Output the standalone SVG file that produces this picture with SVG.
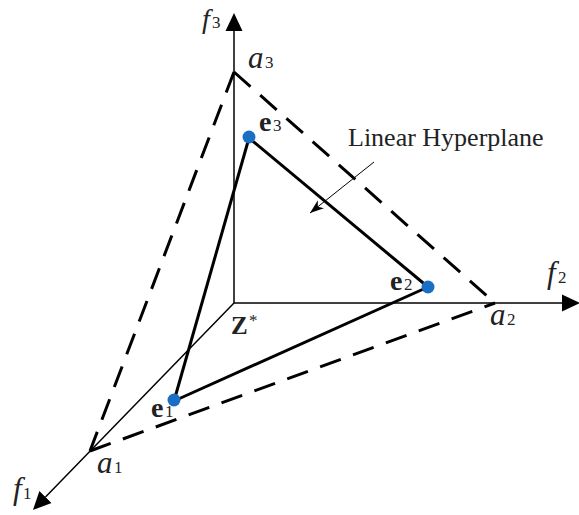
<svg xmlns="http://www.w3.org/2000/svg" width="579" height="515" viewBox="0 0 579 515">
<style>
.axis{stroke:#000;stroke-width:1.5;fill:none}
.dash{stroke:#000;stroke-width:3;fill:none;stroke-dasharray:22 13}
.edge{stroke:#000;stroke-width:3;fill:none}
.thin{stroke:#000;stroke-width:1;fill:none}
.dot{fill:#1a6fc4}
.it{font-family:"Liberation Serif","Times New Roman",serif;font-style:italic;font-size:31px;fill:#222}
.bd{font-family:"Liberation Serif","Times New Roman",serif;font-weight:bold;font-size:28px;fill:#222}
.sub{font-family:"Liberation Serif","Times New Roman",serif;font-style:normal;font-weight:normal;font-size:17px;fill:#222}
.lbl{font-family:"Liberation Serif","Times New Roman",serif;font-size:26px;fill:#222}
</style>
<defs>
<marker id="arr" markerUnits="userSpaceOnUse" markerWidth="20" markerHeight="20" viewBox="0 -10 20 20" refX="0" refY="0" orient="auto">
<path d="M0,-8.5 L18,0 L0,8.5 z" fill="#000"/>
</marker>
<marker id="stealth" markerUnits="userSpaceOnUse" markerWidth="16" markerHeight="12" viewBox="-14 -6 16 12" refX="0" refY="0" orient="auto">
<path d="M0,0 L-14,-5 L-10,0 L-14,5 z" fill="#000"/>
</marker>
</defs>
<g id="connectors">
<line id="axis-f3" class="axis" x1="234" y1="303" x2="234" y2="31" marker-end="url(#arr)"/>
<line id="axis-f2" class="axis" x1="234" y1="303" x2="562" y2="303" marker-end="url(#arr)"/>
<line id="axis-f1" class="axis" x1="234" y1="303" x2="45.5" y2="497" marker-end="url(#arr)"/>
<line class="dash" x1="234" y1="72" x2="495" y2="303"/>
<line class="dash" x1="234" y1="72" x2="90" y2="451"/>
<line class="dash" x1="90" y1="451" x2="495" y2="303"/>
<line class="edge" x1="249" y1="138" x2="428" y2="287"/>
<line class="edge" x1="428" y1="287" x2="174" y2="401"/>
<line class="edge" x1="174" y1="401" x2="249" y2="138"/>
<line class="thin" x1="374" y1="162" x2="310" y2="213" marker-end="url(#stealth)"/>
</g>
<g id="e3"><circle class="dot" cx="249" cy="137" r="6.5"/><text class="bd" x="259" y="131">e<tspan class="sub" x="273">3</tspan></text></g>
<g id="e2"><circle class="dot" cx="428" cy="287" r="6.5"/><text class="bd" x="390" y="290">e<tspan class="sub" x="404">2</tspan></text></g>
<g id="e1"><circle class="dot" cx="174" cy="400" r="6.5"/><text class="bd" x="151" y="417">e<tspan class="sub" x="165">1</tspan></text></g>
<g id="z"><text class="bd" x="231" y="334" style="font-size:25px">Z<tspan class="sub" x="249" y="326">*</tspan></text></g>
<g id="a3"><text class="it" x="248" y="68">a<tspan class="sub" x="265">3</tspan></text></g>
<g id="a2"><text class="it" x="490" y="325">a<tspan class="sub" x="507">2</tspan></text></g>
<g id="a1"><text class="it" x="97" y="473">a<tspan class="sub" x="114">1</tspan></text></g>
<g id="f3"><text class="it" x="202" y="28" style="font-size:28px">f<tspan class="sub" x="212">3</tspan></text></g>
<g id="f2"><text class="it" x="547" y="283">f<tspan class="sub" x="558">2</tspan></text></g>
<g id="f1"><text class="it" x="13" y="499">f<tspan class="sub" x="23">1</tspan></text></g>
<g id="hyperplane"><text class="lbl" x="348" y="146">Linear Hyperplane</text></g>
</svg>
